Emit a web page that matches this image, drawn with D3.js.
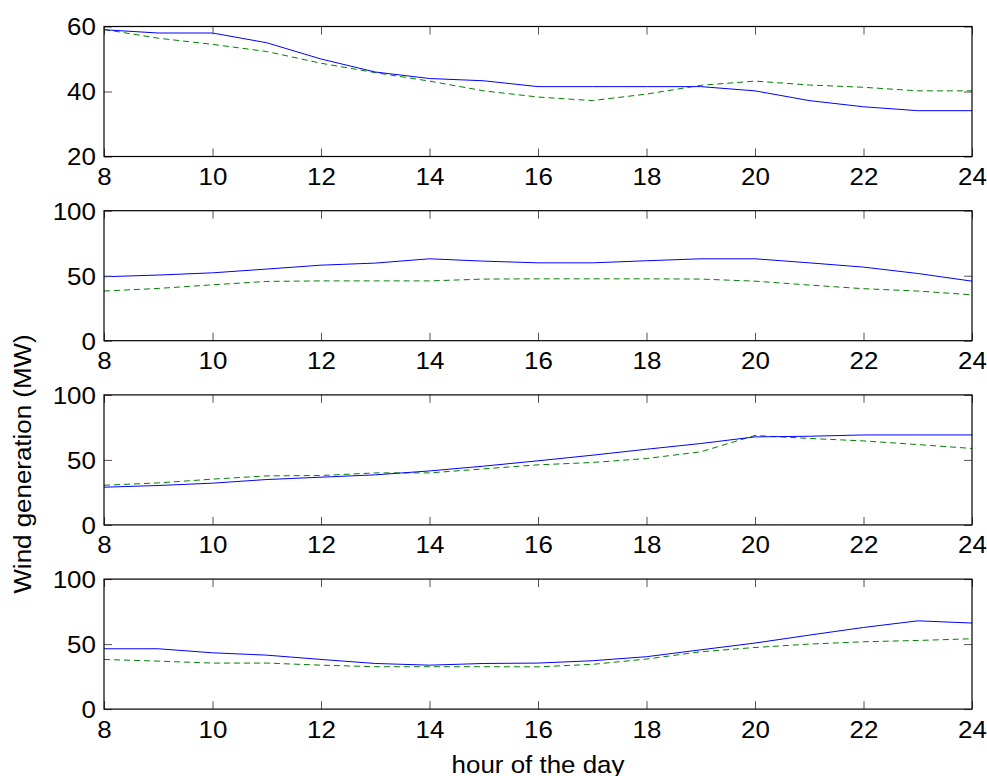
<!DOCTYPE html>
<html>
<head>
<meta charset="utf-8">
<script src="https://cdn.jsdelivr.net/npm/d3@7/dist/d3.min.js"></script>
<style>
  html, body { margin: 0; padding: 0; background: #fff; }
  svg { display: block; font-family: "Liberation Sans", Arial, Helvetica, sans-serif; }
</style>
</head>
<body>
<svg id="chart" width="987" height="776"></svg>
<script>
// Hours of the day on the shared x axis
const hours = [8, 9, 10, 11, 12, 13, 14, 15, 16, 17, 18, 19, 20, 21, 22, 23, 24];
const xTicks = [8, 10, 12, 14, 16, 18, 20, 22, 24];

// Wind generation (MW) per panel: solid blue and dashed green series
const panel1Solid  = [59, 58, 58, 55, 50, 46, 44, 43.3, 41.5, 41.5, 41.5, 41.5, 40.2, 37.2, 35.3, 34.1, 34.1];
const panel1Dashed = [59.1, 56.4, 54.5, 52.3, 48.7, 45.8, 43.2, 40.2, 38.3, 37.2, 39.2, 41.9, 43.2, 42, 41.3, 40.2, 40.2];
const panel2Solid  = [49.2, 50.5, 52.2, 55.1, 58.1, 59.7, 63, 61.2, 59.9, 59.9, 61.5, 63, 63, 59.9, 56.6, 51.7, 45.8];
const panel2Dashed = [38.2, 40.2, 43, 45.6, 46, 46, 46, 47.4, 47.6, 47.6, 47.6, 47.4, 45.8, 42.8, 40, 38.2, 35.3];
const panel3Solid  = [29, 30.3, 32.1, 34.9, 36.7, 38.5, 41.5, 45.2, 49.3, 53.6, 58.2, 62.6, 67.7, 68.2, 69.2, 69.2, 69.2];
const panel3Dashed = [30.5, 32.3, 35.2, 37.7, 38, 40, 40, 43.1, 46.2, 48, 51.1, 56.2, 68.8, 66.5, 64.6, 61.8, 58.8];
const panel4Solid  = [46.4, 46.4, 43.3, 41.5, 38.2, 35.1, 33.8, 35.1, 35.4, 37.2, 40.3, 45.6, 50.8, 56.9, 62.8, 67.9, 66.2];
const panel4Dashed = [38.2, 36.9, 35.4, 35.4, 33.8, 32.6, 32.6, 32.6, 32.5, 34.4, 38.5, 44.1, 47.4, 50, 51.8, 52.8, 54.1];

// y-axis tick values per panel
const panel1YTicks = [20, 40, 60];
const yTicksDefault = [0, 50, 100];

const xLabel = "hour of the day";
const yLabel = "Wind generation (MW)";

const panels = [
  { solid: panel1Solid, dashed: panel1Dashed, ticks: panel1YTicks },
  { solid: panel2Solid, dashed: panel2Dashed, ticks: yTicksDefault },
  { solid: panel3Solid, dashed: panel3Dashed, ticks: yTicksDefault },
  { solid: panel4Solid, dashed: panel4Dashed, ticks: yTicksDefault }
];

const svg = d3.select("#chart");
const left = 104, right = 972;
const panelTop0 = 26.5, panelStep = 184.2, panelH = 130;
const tickLen = 8;
const fontSize = 24;
const widen = "scale(1.08,1)";   // slightly wider glyphs for all labels

const x = d3.scaleLinear().domain([8, 24]).range([left, right]);

panels.forEach((p, i) => {
  const top = panelTop0 + i * panelStep;
  const bottom = top + panelH;
  const yDomain = [p.ticks[0], p.ticks[p.ticks.length - 1]];
  const y = d3.scaleLinear().domain(yDomain).range([bottom, top]);
  const g = svg.append("g");

  // data lines
  const line = d3.line().x((d, k) => x(hours[k])).y(d => y(d));
  g.append("path").datum(p.dashed)
    .attr("d", line).attr("fill", "none")
    .attr("stroke", "#008000").attr("stroke-width", 1)
    .attr("stroke-dasharray", "6,4");
  g.append("path").datum(p.solid)
    .attr("d", line).attr("fill", "none")
    .attr("stroke", "#0000ff").attr("stroke-width", 1);

  // inward ticks on all four sides
  const bottomAxis = d3.axisBottom(x).tickValues(xTicks).tickSize(-tickLen).tickFormat(d3.format("d"));
  const topAxis = d3.axisTop(x).tickValues(xTicks).tickSize(-tickLen).tickFormat("");
  const leftAxis = d3.axisLeft(y).tickValues(p.ticks).tickSize(-tickLen).tickFormat(d3.format("d"));
  const rightAxis = d3.axisRight(y).tickValues(p.ticks).tickSize(-tickLen).tickFormat("");

  const gb = g.append("g").attr("transform", `translate(0,${bottom})`).call(bottomAxis);
  const gt = g.append("g").attr("transform", `translate(0,${top})`).call(topAxis);
  const gl = g.append("g").attr("transform", `translate(${left},0)`).call(leftAxis);
  const gr = g.append("g").attr("transform", `translate(${right},0)`).call(rightAxis);

  [gb, gt, gl, gr].forEach(ax => {
    ax.select(".domain").remove();
    ax.selectAll(".tick line").attr("stroke", "#555").attr("stroke-width", 1);
    ax.selectAll(".tick text")
      .attr("fill", "#000")
      .attr("transform", widen)
      .style("font-size", fontSize + "px")
      .style("font-family", "'Liberation Sans', Arial, sans-serif");
  });
  gb.selectAll(".tick text").attr("dy", null).attr("y", 28.5);
  gl.selectAll(".tick text").attr("dy", "0.35em").attr("x", -7.5);

  // axes box
  g.append("rect")
    .attr("x", left).attr("y", top)
    .attr("width", right - left).attr("height", panelH)
    .attr("fill", "none").attr("stroke", "#000").attr("stroke-width", 1.2);
});

// axis titles
svg.append("text")
  .attr("transform", `translate(${(left + right) / 2},772.5) ${widen}`)
  .attr("text-anchor", "middle")
  .style("font-size", fontSize + "px")
  .text(xLabel);

svg.append("text")
  .attr("transform", `translate(30.5,464) rotate(-90) ${widen}`)
  .attr("text-anchor", "middle")
  .style("font-size", fontSize + "px")
  .text(yLabel);
</script>
</body>
</html>
